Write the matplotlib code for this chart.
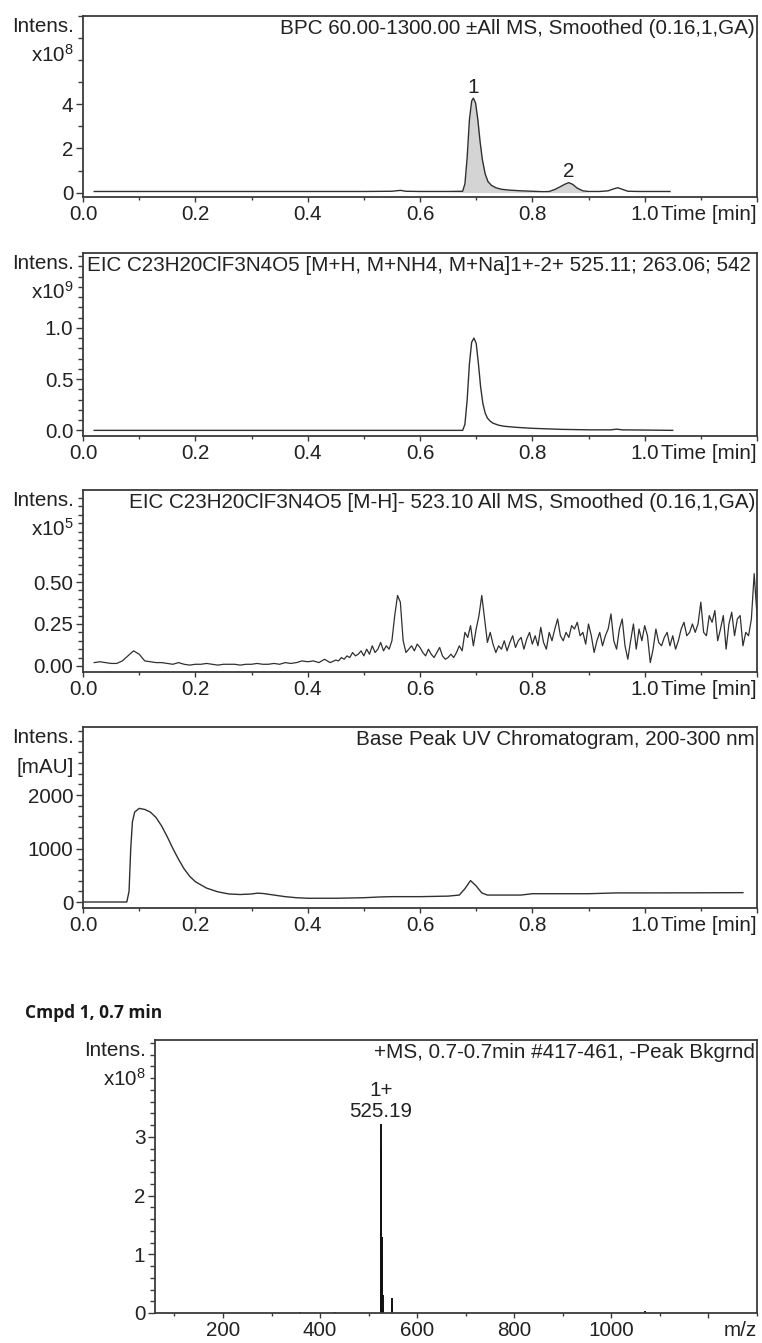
"""LC-MS report page: BPC, EICs, UV trace and MS spectrum of compound 1."""
import matplotlib
matplotlib.use('Agg')
import matplotlib.pyplot as plt
import numpy as np
from matplotlib.ticker import MultipleLocator, FixedLocator, FuncFormatter

plt.rcParams['font.family'] = ['Liberation Sans', 'DejaVu Sans']
plt.rcParams['mathtext.fontset'] = 'custom'
plt.rcParams['mathtext.rm'] = 'Liberation Sans'
plt.rcParams['mathtext.default'] = 'regular'

FS = 14.9
INK = '#222222'
LINE = '#303030'

# --- panel 1: BPC (x10^8) ---
BPC_T = [0.02, 0.10, 0.20, 0.30, 0.40, 0.50, 0.55, 0.565, 0.575, 0.60, 0.65,
         0.676, 0.68, 0.684, 0.688, 0.692, 0.695, 0.699, 0.703, 0.707, 0.711,
         0.716, 0.721, 0.727, 0.735, 0.745, 0.76, 0.78, 0.80, 0.82, 0.83, 0.84,
         0.85, 0.858, 0.865, 0.872, 0.88, 0.89, 0.90, 0.92, 0.935, 0.945,
         0.952, 0.96, 0.97, 0.99, 1.02, 1.045]
BPC_I = [0.05, 0.05, 0.05, 0.05, 0.05, 0.05, 0.06, 0.10, 0.06, 0.05, 0.05,
         0.06, 0.4, 1.6, 3.3, 4.15, 4.28, 4.05, 3.3, 2.3, 1.5,
         0.85, 0.5, 0.33, 0.22, 0.15, 0.11, 0.08, 0.06, 0.04, 0.05, 0.14,
         0.27, 0.38, 0.45, 0.37, 0.2, 0.08, 0.05, 0.05, 0.08, 0.17,
         0.22, 0.15, 0.06, 0.05, 0.05, 0.05]
BPC_PEAKS = [(0.694, '1'), (0.865, '2')]
BPC_PEAK_H = [4.28, 0.45]

# --- panel 2: EIC positive (x10^9) ---
EICP_T = [0.02, 0.30, 0.60, 0.676, 0.68, 0.684, 0.688, 0.692, 0.696, 0.70,
          0.704, 0.708, 0.712, 0.716, 0.72, 0.725, 0.73, 0.74, 0.75, 0.77,
          0.80, 0.85, 0.90, 0.94, 0.95, 0.96, 1.00, 1.05]
EICP_I = [0.0, 0.0, 0.0, 0.0, 0.06, 0.3, 0.65, 0.86, 0.90, 0.85,
          0.65, 0.42, 0.26, 0.17, 0.12, 0.09, 0.07, 0.05, 0.04, 0.03,
          0.02, 0.01, 0.005, 0.005, 0.012, 0.005, 0.003, 0.0]

# --- panel 3: EIC negative (x10^5) ---
EICN_T_A = [0.02, 0.03, 0.04, 0.05, 0.06, 0.07, 0.08, 0.09, 0.10, 0.11,
            0.12, 0.13, 0.14, 0.15, 0.16, 0.17, 0.18, 0.19, 0.20, 0.21,
            0.22, 0.23, 0.24, 0.25, 0.26, 0.27, 0.28, 0.29, 0.30, 0.31,
            0.32, 0.33, 0.34, 0.35, 0.36, 0.37, 0.38, 0.39, 0.40, 0.41,
            0.42, 0.43, 0.44, 0.45]
EICN_I_A = [0.02, 0.025, 0.02, 0.015, 0.015, 0.03, 0.06, 0.09, 0.07, 0.03,
            0.025, 0.02, 0.02, 0.015, 0.01, 0.02, 0.01, 0.005, 0.01, 0.01,
            0.015, 0.01, 0.005, 0.01, 0.01, 0.01, 0.005, 0.01, 0.01, 0.015,
            0.01, 0.01, 0.015, 0.01, 0.02, 0.015, 0.02, 0.03, 0.025, 0.03,
            0.02, 0.04, 0.02, 0.035]
# 0.455 min onwards, one reading every 0.005 min
EICN_I_B = [0.03, 0.05, 0.04, 0.06, 0.05, 0.08, 0.06, 0.07, 0.09, 0.06,
            0.10, 0.07, 0.12, 0.08, 0.10, 0.14, 0.09, 0.12, 0.10, 0.15,
            0.30, 0.42, 0.38, 0.15, 0.08, 0.10, 0.12, 0.09, 0.13, 0.11,
            0.08, 0.06, 0.10, 0.07, 0.05, 0.08, 0.11, 0.06, 0.04, 0.05,
            0.07, 0.05, 0.08, 0.12, 0.09, 0.20, 0.17, 0.24, 0.12, 0.22,
            0.30, 0.42, 0.28, 0.14, 0.20, 0.13, 0.08, 0.12, 0.10, 0.15,
            0.09, 0.14, 0.18, 0.11, 0.15, 0.17, 0.10, 0.16, 0.20, 0.13,
            0.18, 0.12, 0.23, 0.14, 0.10, 0.20, 0.15, 0.22, 0.28, 0.18,
            0.15, 0.20, 0.17, 0.24, 0.22, 0.26, 0.18, 0.20, 0.13, 0.25,
            0.18, 0.08, 0.15, 0.20, 0.12, 0.18, 0.22, 0.31, 0.15, 0.10,
            0.22, 0.28, 0.12, 0.04, 0.15, 0.25, 0.10, 0.22, 0.15, 0.24,
            0.18, 0.02, 0.10, 0.22, 0.14, 0.12, 0.17, 0.20, 0.12, 0.18,
            0.10, 0.15, 0.22, 0.26, 0.18, 0.20, 0.25, 0.20, 0.25, 0.38,
            0.20, 0.18, 0.30, 0.26, 0.33, 0.15, 0.22, 0.30, 0.10, 0.25,
            0.32, 0.18, 0.28, 0.30, 0.12, 0.20, 0.18, 0.28, 0.55, 0.30]
EICN_T_B = list(np.round(0.455 + 0.005 * np.arange(len(EICN_I_B)), 3))

# --- panel 4: UV (mAU) ---
UV_T = [0.0, 0.05, 0.078, 0.082, 0.085, 0.088, 0.092, 0.10, 0.11, 0.12,
        0.13, 0.14, 0.15, 0.16, 0.17, 0.18, 0.19, 0.20, 0.22, 0.24,
        0.26, 0.28, 0.30, 0.31, 0.32, 0.34, 0.36, 0.38, 0.40, 0.45,
        0.50, 0.53, 0.55, 0.60, 0.65, 0.67, 0.68, 0.69, 0.70, 0.71,
        0.72, 0.75, 0.78, 0.80, 0.85, 0.90, 0.95, 1.00, 1.10, 1.175]
UV_I = [0, 0, 0, 200, 1000, 1500, 1680, 1750, 1730, 1680,
        1580, 1420, 1220, 1000, 800, 620, 480, 380, 260, 190,
        150, 140, 150, 165, 160, 130, 100, 80, 70, 70,
        80, 95, 100, 100, 110, 130, 250, 400, 300, 170,
        130, 130, 130, 155, 155, 155, 170, 170, 172, 175]

# --- panel 5: MS spectrum (x10^8) ---
MS_MZ = [358, 430, 525.19, 526.19, 527.19, 528.19, 529.2, 530.2,
         547.17, 548.17, 549.2, 1070]
MS_I = [0.01, 0.01, 3.22, 2.78, 1.30, 0.95, 0.30, 0.08,
        0.25, 0.12, 0.05, 0.03]
MS_LABEL_MZ = 525.19

W, H = 762, 1343


def rect(left, top, right, bottom):
    return [left / W, 1 - bottom / H, (right - left) / W, (bottom - top) / H]


def style(ax, ylim, ymajor, yminor, yfmt, ylab1, ylab2, xlabel):
    for s in ax.spines.values():
        s.set_color('#3a3a3a')
        s.set_linewidth(1.3)
    ax.set_ylim(*ylim)
    ax.yaxis.set_major_locator(FixedLocator(ymajor))
    ax.yaxis.set_minor_locator(MultipleLocator(yminor))
    ax.yaxis.set_major_formatter(FuncFormatter(lambda v, p: yfmt.format(v)))
    ax.tick_params(axis='y', which='major', direction='out', length=5, width=1,
                   pad=2, labelsize=FS, color='#3a3a3a', labelcolor=INK)
    ax.tick_params(axis='y', which='minor', direction='out', length=3.5, width=1,
                   color='#3a3a3a')
    ax.tick_params(axis='x', which='major', direction='out', length=3.5, width=1,
                   pad=2.5, labelsize=FS, color='#3a3a3a', labelcolor=INK)
    ax.tick_params(axis='x', which='minor', direction='out', length=2.5, width=1,
                   color='#3a3a3a')
    ax.annotate(ylab1, xy=(0, 1), xycoords='axes fraction', xytext=(-6.5, -1),
                textcoords='offset points', ha='right', va='top', fontsize=FS,
                color=INK)
    ax.annotate(ylab2, xy=(0, 1), xycoords='axes fraction', xytext=(-6.5, -33),
                textcoords='offset points', ha='right', va='baseline',
                fontsize=FS, color=INK)
    ax.annotate(xlabel, xy=(1, 0), xycoords='axes fraction', xytext=(0, -6),
                textcoords='offset points', ha='right', va='top', fontsize=FS,
                color=INK)


def time_axis(ax):
    ax.set_xlim(0, 1.2)
    ax.xaxis.set_major_locator(FixedLocator([0, 0.2, 0.4, 0.6, 0.8, 1.0, 1.2]))
    ax.xaxis.set_minor_locator(MultipleLocator(0.1))
    ax.xaxis.set_major_formatter(
        FuncFormatter(lambda v, p: '' if v > 1.1 else f'{v:.1f}'))


def title(ax, text, left=False):
    if left:
        ax.annotate(text, xy=(0, 1), xycoords='axes fraction', xytext=(3, -2),
                    textcoords='offset points', ha='left', va='top',
                    fontsize=FS, color=INK)
    else:
        ax.annotate(text, xy=(1, 1), xycoords='axes fraction', xytext=(-1.5, -2),
                    textcoords='offset points', ha='right', va='top',
                    fontsize=FS, color=INK)


fig = plt.figure(figsize=(W / 100, H / 100), dpi=100)

# panel 1
ax1 = fig.add_axes(rect(83, 16, 757, 197))
t = np.array(BPC_T)
i = np.array(BPC_I)
ax1.plot(t, i, color=LINE, lw=1.0)
ax1.fill_between(t, 0, i, where=(t >= 0.676) & (t <= 0.80), color='#d4d4d4',
                 lw=0, interpolate=True)
ax1.fill_between(t, 0, i, where=(t >= 0.83) & (t <= 0.89), color='#d4d4d4',
                 lw=0, interpolate=True)
for (pt, lab), ph in zip(BPC_PEAKS, BPC_PEAK_H):
    ax1.annotate(lab, xy=(pt, ph), xytext=(0, 1), textcoords='offset points',
                 ha='center', va='bottom', fontsize=FS, color=INK)
time_axis(ax1)
style(ax1, (-0.2, 8.0), [0, 2, 4], 1, '{:.0f}', 'Intens.', 'x10$^{8}$',
      'Time [min]')
title(ax1, 'BPC 60.00-1300.00 \u00b1All MS, Smoothed (0.16,1,GA)')

# panel 2 (the instrument header is truncated after "542" on the page)
ax2 = fig.add_axes(rect(83, 253, 757, 436))
ax2.plot(EICP_T, EICP_I, color=LINE, lw=1.0)
time_axis(ax2)
style(ax2, (-0.055, 1.73), [0, 0.5, 1.0], 0.1, '{:.1f}', 'Intens.',
      'x10$^{9}$', 'Time [min]')
title(ax2, 'EIC C23H20ClF3N4O5 [M+H, M+NH4, M+Na]1+-2+ 525.11; 263.06; 542',
      left=True)

# panel 3
ax3 = fig.add_axes(rect(83, 490, 757, 672))
ax3.plot(EICN_T_A + EICN_T_B, EICN_I_A + EICN_I_B, color=LINE, lw=0.9)
time_axis(ax3)
style(ax3, (-0.036, 1.048), [0, 0.25, 0.5], 0.05, '{:.2f}', 'Intens.',
      'x10$^{5}$', 'Time [min]')
title(ax3, 'EIC C23H20ClF3N4O5 [M-H]- 523.10 All MS, Smoothed (0.16,1,GA)')

# panel 4
ax4 = fig.add_axes(rect(83, 727, 757, 908))
ax4.plot(UV_T, UV_I, color=LINE, lw=1.0)
time_axis(ax4)
style(ax4, (-112, 3271), [0, 1000, 2000], 200, '{:.0f}', 'Intens.', '[mAU]',
      'Time [min]')
title(ax4, 'Base Peak UV Chromatogram, 200-300 nm')

fig.text(25 / W, 1 - 1013 / H, 'Cmpd 1, 0.7 min', family='Open Sans',
         fontweight='bold', fontsize=12.5, color='#1a1a1a', ha='left',
         va='center')

# panel 5
ax5 = fig.add_axes(rect(155, 1040, 757, 1313))
ax5.vlines(MS_MZ, 0, MS_I, color='#111111', lw=1.4)
ax5.set_xlim(60, 1300)
ax5.xaxis.set_major_locator(FixedLocator([200, 400, 600, 800, 1000, 1200]))
ax5.xaxis.set_minor_locator(MultipleLocator(100))
ax5.xaxis.set_major_formatter(
    FuncFormatter(lambda v, p: '' if v > 1100 else f'{v:.0f}'))
style(ax5, (0, 4.65), [0, 1, 2, 3], 0.2, '{:.0f}', 'Intens.', 'x10$^{8}$',
      'm/z')
title(ax5, '+MS, 0.7-0.7min #417-461, -Peak Bkgrnd')
top = MS_I[MS_MZ.index(MS_LABEL_MZ)]
ax5.annotate(f'{MS_LABEL_MZ:.2f}', xy=(MS_LABEL_MZ, top), xytext=(0, 2),
             textcoords='offset points', ha='center', va='bottom', fontsize=FS,
             color=INK)
ax5.annotate('1+', xy=(MS_LABEL_MZ, top), xytext=(0, 17),
             textcoords='offset points', ha='center', va='bottom', fontsize=FS,
             color=INK)

fig.savefig('out.png', dpi=100)
